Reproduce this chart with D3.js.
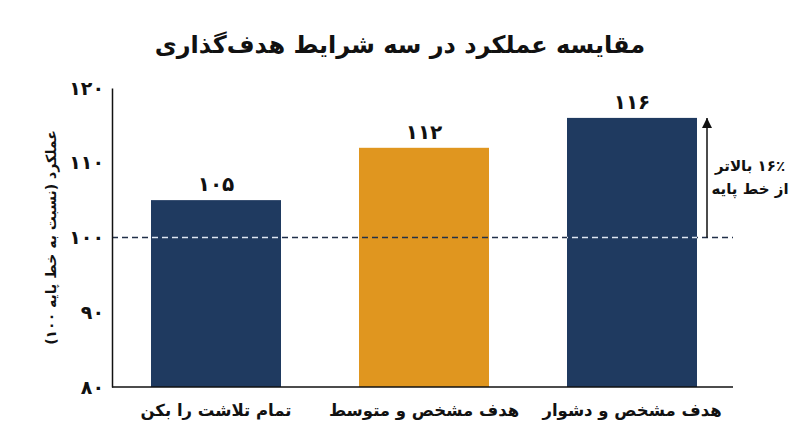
<!DOCTYPE html>
<html>
<head>
<meta charset="utf-8">
<script src="https://cdn.jsdelivr.net/npm/d3@7"></script>
<style>
  body { margin: 0; background: #fff; }
  svg text { font-family: "DejaVu Sans", sans-serif; font-weight: bold; fill: #111; }
</style>
</head>
<body>
<svg id="chart" width="800" height="447"></svg>
<script>
// داده‌ها
const categories = ["تمام تلاشت را بکن", "هدف مشخص و متوسط", "هدف مشخص و دشوار"];
const values = [105, 112, 116];
const barColors = ["#1f3a60", "#e0961f", "#1f3a60"];
const yTicks = [80, 90, 100, 110, 120];
const baseline = 100;

const toFa = (n) => String(n).replace(/\d/g, (d) => "۰۱۲۳۴۵۶۷۸۹"[d]);

const svg = d3.select("#chart");
const defs = svg.append("defs");

const x = d3.scaleBand()
  .domain(categories)
  .range([112, 736])
  .paddingInner(0.375)
  .paddingOuter(0.1875);

const y = d3.scaleLinear().domain([80, 120]).range([387, 88]);

// عنوان
svg.append("text")
  .attr("x", 400)
  .attr("y", 53)
  .attr("text-anchor", "middle")
  .attr("direction", "rtl")
  .attr("font-size", 24)
  .text("مقایسه عملکرد در سه شرایط هدف‌گذاری");

// میله‌ها
svg.selectAll("rect.bar")
  .data(values)
  .enter()
  .append("rect")
  .attr("class", "bar")
  .attr("x", (d, i) => x(categories[i]))
  .attr("y", (d) => y(d))
  .attr("width", x.bandwidth())
  .attr("height", (d) => y(80) - y(d))
  .attr("fill", (d, i) => barColors[i]);

// برچسب مقدار
svg.selectAll("text.val")
  .data(values)
  .enter()
  .append("text")
  .attr("class", "val")
  .attr("x", (d, i) => x(categories[i]) + x.bandwidth() / 2)
  .attr("y", (d) => y(d) - 9)
  .attr("text-anchor", "middle")
  .attr("font-size", 20)
  .text((d) => toFa(d));

// خط پایه
svg.append("line")
  .attr("x1", 112)
  .attr("x2", 733)
  .attr("y1", y(baseline))
  .attr("y2", y(baseline))
  .attr("stroke", "#22304a")
  .attr("stroke-width", 1.3)
  .attr("stroke-dasharray", "6,4");

// روی میله‌های سرمه‌ای خط روشن است
const clip = defs.append("clipPath").attr("id", "navyClip");
clip.selectAll("rect")
  .data(values.filter((d, i) => barColors[i] === "#1f3a60"))
  .enter()
  .append("rect")
  .attr("x", (d) => x(categories[values.indexOf(d)]))
  .attr("y", (d) => y(d))
  .attr("width", x.bandwidth())
  .attr("height", (d) => y(80) - y(d));

svg.append("line")
  .attr("x1", 112)
  .attr("x2", 733)
  .attr("y1", y(baseline))
  .attr("y2", y(baseline))
  .attr("stroke", "#dde8f5")
  .attr("stroke-width", 1.3)
  .attr("stroke-dasharray", "6,4")
  .attr("clip-path", "url(#navyClip)");

// محور y
const yAxis = svg.append("g")
  .attr("transform", "translate(112,0)")
  .call(d3.axisLeft(y).tickValues(yTicks).tickSize(0).tickPadding(8).tickFormat(toFa));
yAxis.select(".domain").attr("stroke", "#111").attr("stroke-width", 1.5);
yAxis.selectAll("text").attr("font-size", 19).attr("font-family", "DejaVu Sans").attr("font-weight", "bold").attr("fill", "#111");

// محور x
const xAxis = svg.append("g")
  .attr("transform", "translate(0,387)")
  .call(d3.axisBottom(x).tickSize(0).tickPadding(17));
xAxis.select(".domain").attr("d", "M112,0H733").attr("stroke", "#111").attr("stroke-width", 1.5);
xAxis.selectAll("text").attr("font-size", 16.5).attr("font-family", "DejaVu Sans").attr("font-weight", "bold").attr("fill", "#111").attr("direction", "rtl");

// عنوان محور y
svg.append("text")
  .attr("transform", "translate(56," + y(baseline) + ") rotate(-90)")
  .attr("text-anchor", "middle")
  .attr("direction", "rtl")
  .attr("font-size", 14)
  .text("عملکرد (نسبت به خط پایه ۱۰۰)");

// فلش
defs.append("marker")
  .attr("id", "arrow")
  .attr("viewBox", "0 0 10 10")
  .attr("refX", 10)
  .attr("refY", 5)
  .attr("markerWidth", 7)
  .attr("markerHeight", 7)
  .attr("orient", "auto")
  .append("path")
  .attr("d", "M0,0L10,5L0,10Z")
  .attr("fill", "#111");

svg.append("line")
  .attr("x1", 707)
  .attr("x2", 707)
  .attr("y1", y(baseline))
  .attr("y2", y(values[2]))
  .attr("stroke", "#111")
  .attr("stroke-width", 1.5)
  .attr("marker-end", "url(#arrow)");

const note = svg.append("text")
  .attr("text-anchor", "middle")
  .attr("direction", "rtl")
  .attr("font-size", 15);
note.append("tspan").attr("x", 750).attr("y", 171).text("۱۶٪ بالاتر");
note.append("tspan").attr("x", 750).attr("y", 194).text("از خط پایه");
</script>
</body>
</html>
